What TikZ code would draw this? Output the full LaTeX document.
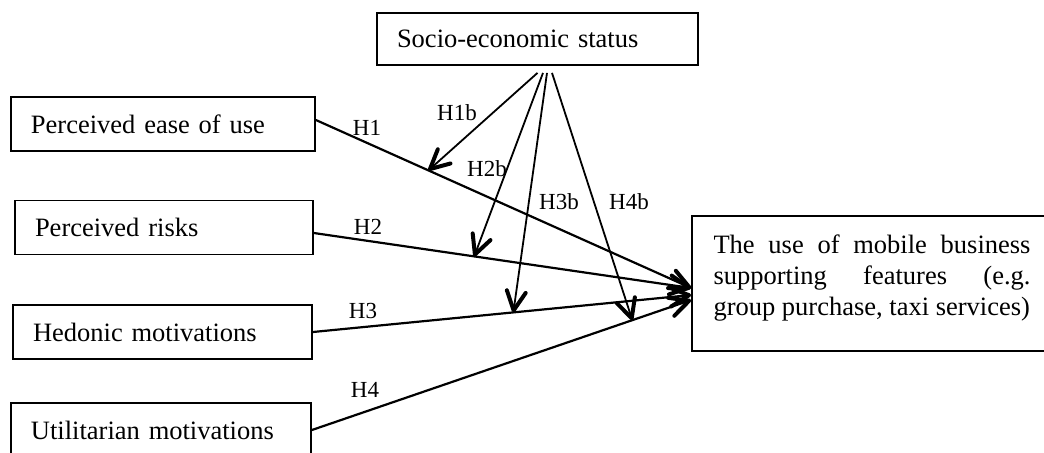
\documentclass[tikz,border=0pt]{standalone}
\usepackage{fontspec}
\setmainfont{Liberation Serif}
\usetikzlibrary{arrows.meta}
\tikzset{
	factor/.style={draw, line width=0.9pt, inner xsep=10pt, minimum height=27pt, align=left, font=\fontsize{13.25}{15.5}\selectfont},
	hyp/.style={line width=1.1pt, -{Straight Barb[length=9.5pt,width=9.5pt,line width=2pt,round]}},
	mod/.style={line width=0.9pt, -{Straight Barb[length=9.5pt,width=9.5pt,line width=2pt,round]}},
	hlabel/.style={font=\fontsize{11.5}{13}\selectfont, inner sep=0pt}
}

\begin{document}
\begin{tikzpicture}[x=0.5pt,y=-0.5pt]
\useasboundingbox (0,0) rectangle (1044,452);
% boxes
\node[factor, text width=140.5pt, minimum height=26pt] (ses) at (537.5,39) {Socio-economic status};
\node[factor, text width=132pt] (pe) at (163,124) {Perceived ease of use};
\node[factor, text width=129pt] (pr) at (164,227.5) {Perceived risks};
\node[factor, text width=129.5pt] (hm) at (162.5,332) {Hedonic motivations};
\node[factor, text width=130pt] (um) at (161,430) {Utilitarian motivations};
\node[factor, align=justify, text width=158.5pt, inner xsep=10.75pt, inner ysep=9.5pt,
	text depth=39.5pt, minimum height=0pt] (use) at (872,283.5)
	{The use of mobile business\linebreak supporting features (e.g.\linebreak group purchase, taxi services)};

% start and end points
\coordinate (s1) at ([yshift=-3.5pt]ses.south);
\coordinate (s2) at ([xshift=2.75pt,yshift=-3.5pt]ses.south);
\coordinate (s3) at ([xshift=4.75pt,yshift=-3.5pt]ses.south);
\coordinate (s4) at ([xshift=7.25pt,yshift=-3.5pt]ses.south);
\coordinate (e1) at ([yshift=-2.25pt]use.west);
\coordinate (e3) at ([yshift=-5.75pt]use.west);
\coordinate (e4) at ([yshift=-8.25pt]use.west);

% direct effects
\draw[hyp] ([yshift=2pt]pe.east) -- coordinate[pos=0.3] (m1) (e1);
\draw[hyp] ([yshift=-2.75pt]pr.east) -- coordinate[pos=0.425] (m2) (e1);
\draw[hyp] (hm.east) -- coordinate[pos=0.53] (m3) (e3);
\draw[hyp] (um.east) -- coordinate[pos=0.845] (m4) (e4);

% moderating effects
\draw[mod] (s1) -- (m1);
\draw[mod] (s2) -- (m2);
\draw[mod] (s3) -- (m3);
\draw[mod] (s4) -- (m4);

% labels
\node[hlabel] (h1) at (367,128) {H1};
\node[hlabel] (h2) at (368,227) {H2};
\node[hlabel] (h3) at (363,311) {H3};
\node[hlabel] (h4) at (365,390) {H4};
\node[hlabel] (h1b) at (457,113) {H1b};
\node[hlabel] (h2b) at (487,169) {H2b};
\node[hlabel] (h3b) at (559,202) {H3b};
\node[hlabel] (h4b) at (629,202) {H4b};

\end{tikzpicture}
\end{document}
